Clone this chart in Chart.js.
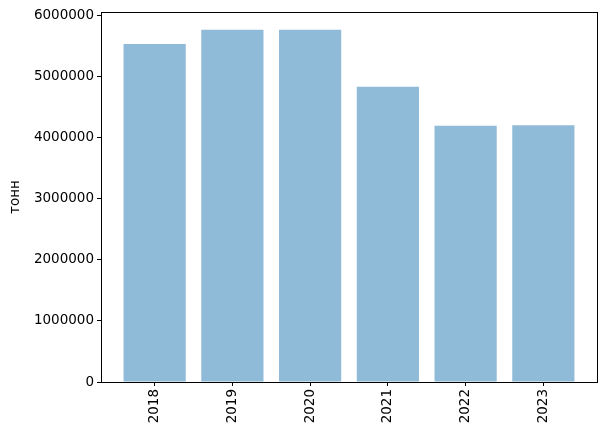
<!DOCTYPE html>
<html>
<head>
<meta charset="utf-8">
<script src="https://cdn.jsdelivr.net/npm/chart.js@4/dist/chart.umd.min.js"></script>
<style>
  html, body { margin: 0; padding: 0; background: #fff; }
  #wrap { width: 607px; height: 437px; }
</style>
</head>
<body>
<div id="wrap"><canvas id="tonnChart" width="607" height="437"></canvas></div>
<script>
var years = ['2018', '2019', '2020', '2021', '2022', '2023'];
var tonnes = [5530000, 5760000, 5760000, 4830000, 4190000, 4200000];
var yTicks = [0, 1000000, 2000000, 3000000, 4000000, 5000000, 6000000];

var points = years.map(function (y, i) { return { x: i, y: tonnes[i] }; });

// frame on top and right, like matplotlib
var framePlugin = {
    id: 'frame',
    afterDraw: function (chart) {
        var a = chart.chartArea, ctx = chart.ctx;
        ctx.save();
        ctx.strokeStyle = '#000';
        ctx.lineWidth = 1;
        ctx.strokeRect(a.left + 0.5, a.top + 0.5, a.right - a.left, a.bottom - a.top);
        ctx.restore();
    }
};

Chart.defaults.font.family = 'DejaVu Sans';
Chart.defaults.font.size = 13.5;
Chart.defaults.color = '#000';

var tonnChart = new Chart(document.getElementById('tonnChart').getContext('2d'), {
    type: 'bar',
    data: {
        datasets: [{
            data: points,
            backgroundColor: 'rgba(31, 119, 180, 0.5)',
            borderWidth: 0,
            barPercentage: 0.8,
            categoryPercentage: 1.0,
        }],
    },
    plugins: [framePlugin],
    options: {
        responsive: false,
        animation: false,
        plugins: {
            legend: { display: false },
            tooltip: { enabled: false },
        },
        layout: {
            padding: { left: 0, right: 10, top: 12, bottom: 0 },
        },
        scales: {
            x: {
                type: 'linear',
                min: -0.69,
                max: 5.69,
                offset: false,
                afterBuildTicks: function (scale) {
                    scale.ticks = years.map(function (y, i) { return { value: i }; });
                },
                afterFit: function (scale) { scale.height = 55; },
                ticks: {
                    minRotation: 90,
                    maxRotation: 90,
                    padding: 3,
                    callback: function (v) { return years[v]; },
                },
                grid: {
                    offset: false,
                    drawOnChartArea: false,
                    drawTicks: true,
                    tickLength: 4,
                    color: '#000',
                },
                border: { color: '#000' },
            },
            y: {
                min: 0,
                max: 6052000,
                afterBuildTicks: function (scale) {
                    scale.ticks = yTicks.map(function (v) { return { value: v }; });
                },
                afterFit: function (scale) { scale.width = 101; },
                ticks: {
                    padding: 3,
                    callback: function (v) { return String(v); },
                },
                grid: {
                    drawOnChartArea: false,
                    drawTicks: true,
                    tickLength: 4,
                    color: '#000',
                },
                border: { color: '#000' },
                title: {
                    display: true,
                    text: 'тонн',
                    padding: { top: 7, bottom: 0 },
                },
            },
        },
    },
});
</script>
</body>
</html>
